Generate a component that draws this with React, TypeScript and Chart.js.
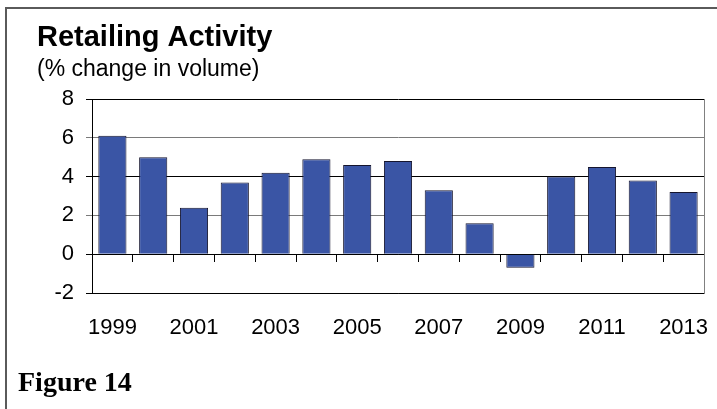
import React, { useEffect, useRef } from "react";
import { Chart, registerables } from "chart.js";

Chart.register(...registerables);

const years = ["1999","2000","2001","2002","2003","2004","2005","2006","2007","2008","2009","2010","2011","2012","2013"];
const volumeChange = [6.1, 5.0, 2.4, 3.7, 4.2, 4.9, 4.6, 4.8, 3.3, 1.6, -0.7, 4.0, 4.5, 3.8, 3.2];
const yTicks = [-2, 0, 2, 4, 6, 8];
const titleText = "Retailing Activity";
const subtitleText = "(% change in volume)";
const figureText = "Figure 14";

const textPlugin = {
  id: "textPlugin",
  afterDraw(chart: any) {
    const ctx = chart.ctx;
    ctx.save();
    ctx.fillStyle = "#000";
    ctx.textBaseline = "alphabetic";
    ctx.textAlign = "left";
    ctx.font = "bold 29px 'Liberation Sans', Arial, sans-serif";
    ctx.fillText(titleText, 37, 46);
    ctx.font = "23px 'Liberation Sans', Arial, sans-serif";
    ctx.fillText(subtitleText, 37, 76);
    ctx.font = "bold 28px 'Liberation Serif', 'Times New Roman', serif";
    ctx.fillText(figureText, 18, 391);
    ctx.restore();
  },
};

export default function App() {
  const ref = useRef<HTMLCanvasElement | null>(null);
  useEffect(() => {
    if (!ref.current) return;
    const chart = new Chart(ref.current, {
      type: "bar",
      data: {
        labels: years,
        datasets: [
          {
            data: volumeChange,
            backgroundColor: "#3A55A5",
            borderColor: "#15152e",
            borderWidth: 1,
            barPercentage: 0.69,
            categoryPercentage: 1,
          },
        ],
      },
      plugins: [textPlugin],
      options: {
        animation: false,
        responsive: false,
        maintainAspectRatio: false,
        layout: { padding: { top: 99, right: 13, bottom: 0, left: 0 } },
        plugins: {
          legend: { display: false },
          title: { display: false },
          tooltip: { enabled: false },
        },
        scales: {
          x: {
            position: "bottom",
            grid: { display: false, drawTicks: false },
            border: { display: true, color: "#000", width: 1 },
            ticks: {
              autoSkip: false,
              maxRotation: 0,
              minRotation: 0,
              padding: 22,
              color: "#000",
              font: { family: "'Liberation Sans', Arial, sans-serif", size: 22 },
              callback: function (this: any, value: any, index: number) {
                return index % 2 === 0 ? this.getLabelForValue(value) : "";
              },
            },
            afterFit: (s: any) => { s.height = 116; s.paddingLeft = 0; s.paddingRight = 0; },
          },
          x2: {
            type: "category",
            position: { y: 0 } as any,
            offset: true,
            grid: {
              offset: true,
              drawOnChartArea: false,
              drawTicks: true,
              tickLength: 7,
              color: "#000",
            },
            border: { display: true, color: "#000", width: 1 },
            ticks: { display: false },
            afterFit: (s: any) => { s.height = 0; s.paddingLeft = 0; s.paddingRight = 0; },
          },
          y: {
            min: -2,
            max: 8,
            afterBuildTicks: (s: any) => { s.ticks = yTicks.map((v) => ({ value: v })); },
            grid: {
              color: (c: any) => (c.tick && (c.tick.value === 2 || c.tick.value === 6) ? "#7a7a7a" : "#000"),
              lineWidth: 1,
              drawTicks: true,
              tickLength: 6,
            },
            border: { display: true, color: "#000", width: 1 },
            ticks: {
              padding: 12,
              color: "#000",
              font: { family: "'Liberation Sans', Arial, sans-serif", size: 22 },
            },
            afterFit: (s: any) => { s.width = 92; s.paddingTop = 0; s.paddingBottom = 0; },
          },
          y2: {
            type: "linear",
            position: "right",
            grid: { display: false, drawTicks: false },
            border: { display: true, color: "#808080", width: 1 },
            ticks: { display: false },
            afterFit: (s: any) => { s.width = 0; },
          },
        },
      },
    });
    return () => chart.destroy();
  }, []);

  return (
    <div style={{ position: "fixed", left: 0, top: 0, width: 717, height: 409, background: "#fff", overflow: "hidden" }}>
      <div
        style={{
          position: "absolute",
          left: 5,
          top: 7,
          width: 720,
          height: 420,
          borderTop: "2px solid #5a5a5a",
          borderLeft: "2px solid #5a5a5a",
          boxSizing: "border-box",
        }}
      />
      <canvas ref={ref} width={717} height={409} style={{ position: "absolute", left: 0, top: 0, width: 717, height: 409 }} />
    </div>
  );
}
